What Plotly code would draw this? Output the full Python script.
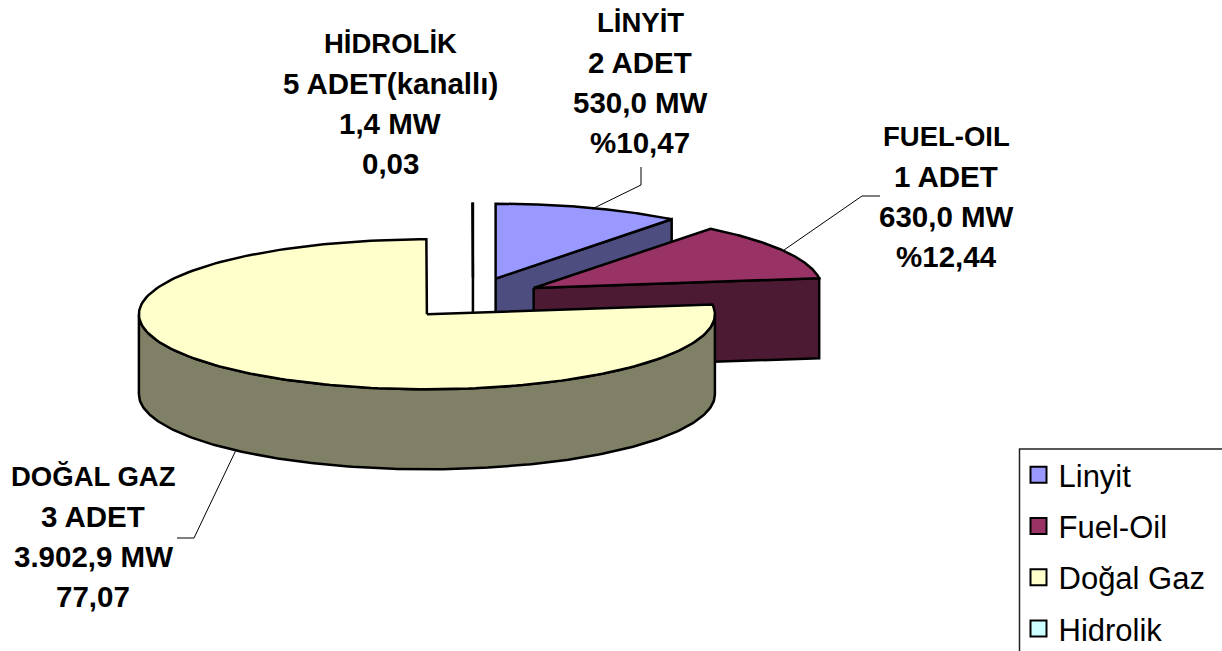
import numpy as np
import plotly.graph_objects as go

# ---- data ----
categories = ["Linyit", "Fuel-Oil", "Doğal Gaz", "Hidrolik"]
shares = [10.47, 12.44, 77.07, 0.03]
label_lines = [
    ["LİNYİT", "2 ADET", "530,0 MW", "%10,47"],
    ["FUEL-OIL", "1 ADET", "630,0 MW", "%12,44"],
    ["DOĞAL GAZ", "3 ADET", "3.902,9 MW", "77,07"],
    ["HİDROLİK", "5 ADET(kanallı)", "1,4 MW", "0,03"],
]

# ---- styles / geometry of the pseudo-3D pie (pixel-like scale) ----
top_colors = ["#9999FF", "#993366", "#FFFFCC", "#CCFFFF"]
side_colors = ["#4D4D80", "#4D1A33", "#808066", "#668080"]
CX, CY, RX, RY, DEPTH = 473, 298.5, 288, 75, 80
EXPLODE_X, EXPLODE_Y = 70, 21
label_centers = [(640, 22), (946, 136), (93, 476), (390, 43)]
LINE_STEP = 40
leaders = [
    ([592, 641, 641], [209, 185, 167]),
    ([784, 862, 880], [250, 196, 196]),
    ([236, 194, 177], [450, 538, 538]),
]

fractions = np.array(shares) / sum(shares)
edges = np.concatenate([[0], np.cumsum(fractions)]) * 2 * np.pi


def rim(cx, cy, t):
    return cx + RX * np.sin(t), cy - RY * np.cos(t)


fig = go.Figure()
OUT = dict(color="black", width=2.5)


def poly(x, y, fill):
    fig.add_trace(go.Scatter(x=list(x), y=list(y), mode="lines", fill="toself",
                             fillcolor=fill, line=OUT, showlegend=False,
                             hoverinfo="skip"))


# smallest slice sits furthest back
for i in [3, 0, 1, 2]:
    t0, t1 = edges[i], edges[i + 1]
    mid = (t0 + t1) / 2
    ax = CX + EXPLODE_X * np.sin(mid)
    ay = CY - EXPLODE_Y * np.cos(mid)
    ts = np.linspace(t0, t1, 200)
    rx_, ry_ = rim(ax, ay, ts)
    # radial wall at the end of the slice
    ex, ey = rim(ax, ay, t1)
    if i != 2:
        poly([ax, ex, ex, ax, ax], [ay, ey, ey + DEPTH, ay + DEPTH, ay], side_colors[i])
    # outer wall: only the near half of the rim shows
    lo, hi = max(t0, np.pi / 2), min(t1, 3 * np.pi / 2)
    if hi > lo:
        tw = np.linspace(lo, hi, 200)
        wx, wy = rim(ax, ay, tw)
        poly(np.r_[wx, wx[::-1], wx[0]], np.r_[wy, wy[::-1] + DEPTH, wy[0]], side_colors[i])
    # top face
    poly(np.r_[ax, rx_, ax], np.r_[ay, ry_, ay], top_colors[i])

# leader lines
for lx, ly in leaders:
    fig.add_trace(go.Scatter(x=lx, y=ly, mode="lines", line=dict(color="black", width=1),
                             showlegend=False, hoverinfo="skip"))

# legend entries
for i, name in enumerate(categories):
    fig.add_trace(go.Scatter(x=[None], y=[None], mode="markers", name=name,
                             legendgroup=name,
                             marker=dict(symbol="square", size=16, color=top_colors[i],
                                         line=dict(color="black", width=2))))

# data labels, one annotation per line (the name line runs slightly narrower)
annotations = []
for lines, (lx, ly) in zip(label_lines, label_centers):
    for k, txt in enumerate(lines):
        annotations.append(dict(x=lx, y=ly + k * LINE_STEP, text=f"<b>{txt}</b>",
                                showarrow=False, xref="x", yref="y",
                                xanchor="center", yanchor="middle",
                                font=dict(family="Liberation Sans",
                                          size=27.5 if k == 0 else 29.5, color="black")))

fig.update_layout(
    width=1222, height=651, autosize=False,
    margin=dict(l=0, r=0, t=0, b=0, autoexpand=False),
    paper_bgcolor="white", plot_bgcolor="white",
    xaxis=dict(range=[0, 1222], visible=False, fixedrange=True),
    yaxis=dict(range=[651, 0], visible=False, fixedrange=True),
    annotations=annotations,
    # the legend frame runs off the right and bottom edges of the picture
    shapes=[dict(type="rect", xref="x", yref="y", x0=1019.5, x1=1232, y0=449, y1=661,
                 line=dict(color="#222222", width=1.5), fillcolor="white", layer="below")],
    legend=dict(x=1018.5 / 1222, y=1 - 448 / 651, xanchor="left", yanchor="top",
                bgcolor="rgba(0,0,0,0)", borderwidth=0,
                font=dict(family="Liberation Sans", size=31, color="black"),
                tracegroupgap=8, itemwidth=30, itemsizing="trace"),
)
fig.write_html("out.html", config=dict(displayModeBar=False),
               post_script="document.body.style.margin='0';")
